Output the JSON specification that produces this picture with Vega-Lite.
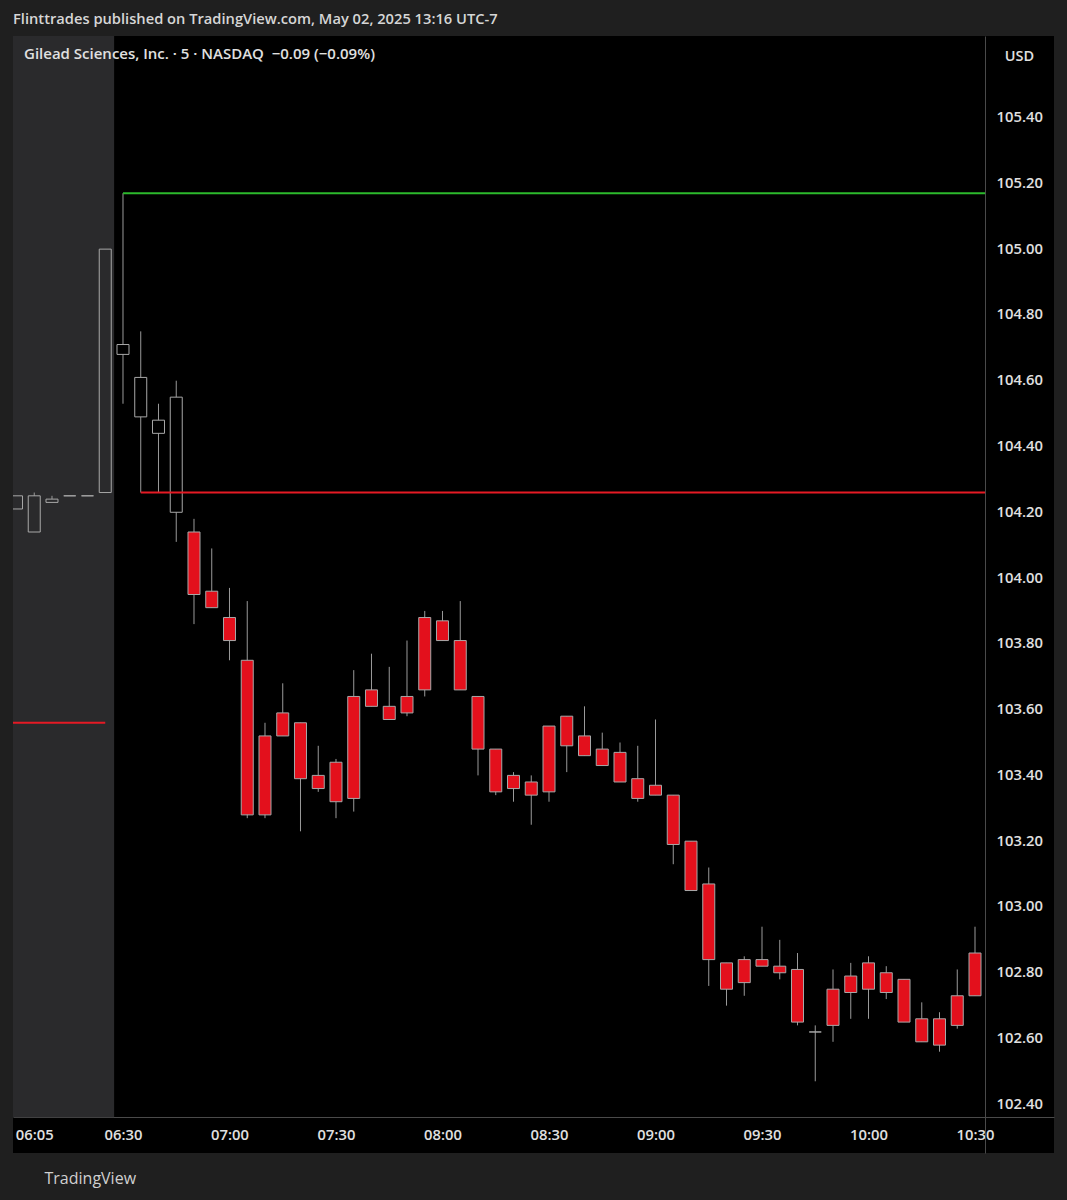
{
  "$schema": "https://vega.github.io/schema/vega-lite/v6.json",
  "width": 1041,
  "height": 1117,
  "autosize": {"type": "none"},
  "padding": {"left": 13, "top": 36, "right": 13, "bottom": 47},
  "background": "#1f1f1f",
  "config": {
    "view": {"fill": "#000000", "stroke": null},
    "font": "Open Sans"
  },
  "title": {
    "text": "Flinttrades published on TradingView.com, May 02, 2025 13:16 UTC-7",
    "subtitle": "\u2800Gilead Sciences, Inc. · 5 · NASDAQ\u00a0\u00a0−0.09 (−0.09%)",
    "anchor": "start",
    "frame": "group",
    "offset": -26,
    "font": "Open Sans",
    "fontSize": 14.7,
    "fontWeight": 600,
    "color": "#d6d6d6",
    "subtitleFont": "Open Sans",
    "subtitleFontSize": 15,
    "subtitleFontWeight": 600,
    "subtitleColor": "#e0e0e0",
    "subtitlePadding": 20
  },
  "datasets": {
    "candles": [
      {"t": "2025-05-02T06:00:00Z", "open": 104.21, "high": 104.25, "low": 104.21, "close": 104.25, "kind": "up"},
      {"t": "2025-05-02T06:05:00Z", "open": 104.14, "high": 104.26, "low": 104.14, "close": 104.25, "kind": "up"},
      {"t": "2025-05-02T06:10:00Z", "open": 104.23, "high": 104.25, "low": 104.23, "close": 104.24, "kind": "up"},
      {"t": "2025-05-02T06:15:00Z", "open": 104.25, "high": 104.25, "low": 104.25, "close": 104.25, "kind": "flat"},
      {"t": "2025-05-02T06:20:00Z", "open": 104.25, "high": 104.25, "low": 104.25, "close": 104.25, "kind": "flat"},
      {"t": "2025-05-02T06:25:00Z", "open": 104.26, "high": 105.00, "low": 104.26, "close": 105.00, "kind": "up"},
      {"t": "2025-05-02T06:30:00Z", "open": 104.68, "high": 105.17, "low": 104.53, "close": 104.71, "kind": "up"},
      {"t": "2025-05-02T06:35:00Z", "open": 104.49, "high": 104.75, "low": 104.26, "close": 104.61, "kind": "up"},
      {"t": "2025-05-02T06:40:00Z", "open": 104.44, "high": 104.53, "low": 104.26, "close": 104.48, "kind": "up"},
      {"t": "2025-05-02T06:45:00Z", "open": 104.20, "high": 104.60, "low": 104.11, "close": 104.55, "kind": "up"},
      {"t": "2025-05-02T06:50:00Z", "open": 104.14, "high": 104.18, "low": 103.86, "close": 103.95, "kind": "down"},
      {"t": "2025-05-02T06:55:00Z", "open": 103.96, "high": 104.09, "low": 103.91, "close": 103.91, "kind": "down"},
      {"t": "2025-05-02T07:00:00Z", "open": 103.88, "high": 103.97, "low": 103.75, "close": 103.81, "kind": "down"},
      {"t": "2025-05-02T07:05:00Z", "open": 103.75, "high": 103.93, "low": 103.27, "close": 103.28, "kind": "down"},
      {"t": "2025-05-02T07:10:00Z", "open": 103.52, "high": 103.56, "low": 103.27, "close": 103.28, "kind": "down"},
      {"t": "2025-05-02T07:15:00Z", "open": 103.59, "high": 103.68, "low": 103.52, "close": 103.52, "kind": "down"},
      {"t": "2025-05-02T07:20:00Z", "open": 103.56, "high": 103.56, "low": 103.23, "close": 103.39, "kind": "down"},
      {"t": "2025-05-02T07:25:00Z", "open": 103.40, "high": 103.49, "low": 103.35, "close": 103.36, "kind": "down"},
      {"t": "2025-05-02T07:30:00Z", "open": 103.44, "high": 103.45, "low": 103.27, "close": 103.32, "kind": "down"},
      {"t": "2025-05-02T07:35:00Z", "open": 103.64, "high": 103.72, "low": 103.29, "close": 103.33, "kind": "down"},
      {"t": "2025-05-02T07:40:00Z", "open": 103.66, "high": 103.77, "low": 103.61, "close": 103.61, "kind": "down"},
      {"t": "2025-05-02T07:45:00Z", "open": 103.61, "high": 103.73, "low": 103.57, "close": 103.57, "kind": "down"},
      {"t": "2025-05-02T07:50:00Z", "open": 103.64, "high": 103.81, "low": 103.58, "close": 103.59, "kind": "down"},
      {"t": "2025-05-02T07:55:00Z", "open": 103.88, "high": 103.90, "low": 103.64, "close": 103.66, "kind": "down"},
      {"t": "2025-05-02T08:00:00Z", "open": 103.87, "high": 103.90, "low": 103.81, "close": 103.81, "kind": "down"},
      {"t": "2025-05-02T08:05:00Z", "open": 103.81, "high": 103.93, "low": 103.66, "close": 103.66, "kind": "down"},
      {"t": "2025-05-02T08:10:00Z", "open": 103.64, "high": 103.64, "low": 103.40, "close": 103.48, "kind": "down"},
      {"t": "2025-05-02T08:15:00Z", "open": 103.48, "high": 103.48, "low": 103.34, "close": 103.35, "kind": "down"},
      {"t": "2025-05-02T08:20:00Z", "open": 103.40, "high": 103.41, "low": 103.32, "close": 103.36, "kind": "down"},
      {"t": "2025-05-02T08:25:00Z", "open": 103.38, "high": 103.40, "low": 103.25, "close": 103.34, "kind": "down"},
      {"t": "2025-05-02T08:30:00Z", "open": 103.55, "high": 103.55, "low": 103.32, "close": 103.35, "kind": "down"},
      {"t": "2025-05-02T08:35:00Z", "open": 103.58, "high": 103.58, "low": 103.41, "close": 103.49, "kind": "down"},
      {"t": "2025-05-02T08:40:00Z", "open": 103.52, "high": 103.61, "low": 103.46, "close": 103.46, "kind": "down"},
      {"t": "2025-05-02T08:45:00Z", "open": 103.48, "high": 103.53, "low": 103.43, "close": 103.43, "kind": "down"},
      {"t": "2025-05-02T08:50:00Z", "open": 103.47, "high": 103.50, "low": 103.38, "close": 103.38, "kind": "down"},
      {"t": "2025-05-02T08:55:00Z", "open": 103.39, "high": 103.49, "low": 103.32, "close": 103.33, "kind": "down"},
      {"t": "2025-05-02T09:00:00Z", "open": 103.37, "high": 103.57, "low": 103.34, "close": 103.34, "kind": "down"},
      {"t": "2025-05-02T09:05:00Z", "open": 103.34, "high": 103.34, "low": 103.13, "close": 103.19, "kind": "down"},
      {"t": "2025-05-02T09:10:00Z", "open": 103.20, "high": 103.20, "low": 103.05, "close": 103.05, "kind": "down"},
      {"t": "2025-05-02T09:15:00Z", "open": 103.07, "high": 103.12, "low": 102.76, "close": 102.84, "kind": "down"},
      {"t": "2025-05-02T09:20:00Z", "open": 102.83, "high": 102.83, "low": 102.70, "close": 102.75, "kind": "down"},
      {"t": "2025-05-02T09:25:00Z", "open": 102.84, "high": 102.85, "low": 102.73, "close": 102.77, "kind": "down"},
      {"t": "2025-05-02T09:30:00Z", "open": 102.84, "high": 102.94, "low": 102.82, "close": 102.82, "kind": "down"},
      {"t": "2025-05-02T09:35:00Z", "open": 102.82, "high": 102.90, "low": 102.78, "close": 102.80, "kind": "down"},
      {"t": "2025-05-02T09:40:00Z", "open": 102.81, "high": 102.86, "low": 102.64, "close": 102.65, "kind": "down"},
      {"t": "2025-05-02T09:45:00Z", "open": 102.62, "high": 102.64, "low": 102.47, "close": 102.62, "kind": "flat"},
      {"t": "2025-05-02T09:50:00Z", "open": 102.75, "high": 102.81, "low": 102.59, "close": 102.64, "kind": "down"},
      {"t": "2025-05-02T09:55:00Z", "open": 102.79, "high": 102.83, "low": 102.66, "close": 102.74, "kind": "down"},
      {"t": "2025-05-02T10:00:00Z", "open": 102.83, "high": 102.85, "low": 102.66, "close": 102.75, "kind": "down"},
      {"t": "2025-05-02T10:05:00Z", "open": 102.80, "high": 102.82, "low": 102.72, "close": 102.74, "kind": "down"},
      {"t": "2025-05-02T10:10:00Z", "open": 102.78, "high": 102.78, "low": 102.65, "close": 102.65, "kind": "down"},
      {"t": "2025-05-02T10:15:00Z", "open": 102.66, "high": 102.71, "low": 102.59, "close": 102.59, "kind": "down"},
      {"t": "2025-05-02T10:20:00Z", "open": 102.66, "high": 102.68, "low": 102.56, "close": 102.58, "kind": "down"},
      {"t": "2025-05-02T10:25:00Z", "open": 102.73, "high": 102.81, "low": 102.63, "close": 102.64, "kind": "down"},
      {"t": "2025-05-02T10:30:00Z", "open": 102.86, "high": 102.94, "low": 102.73, "close": 102.73, "kind": "down"}
    ],
    "levels": [
      {"t": "2025-05-02T06:30:00Z", "t2": "2025-05-02T10:32:50Z", "price": 105.17, "line": "green"},
      {"t": "2025-05-02T06:35:00Z", "t2": "2025-05-02T10:32:50Z", "price": 104.26, "line": "red"},
      {"t": "2025-05-02T05:59:00Z", "t2": "2025-05-02T06:25:00Z", "price": 103.56, "line": "red"}
    ],
    "sessions": [
      {"t": "2025-05-02T05:59:00Z", "t2": "2025-05-02T06:27:30Z", "session": "pre-market"}
    ]
  },
  "encoding": {
    "x": {
      "field": "t",
      "type": "temporal",
      "scale": {
        "type": "utc",
        "domain": [
          {"year": 2025, "month": 5, "date": 2, "hours": 5, "minutes": 59, "seconds": 1, "utc": true},
          {"year": 2025, "month": 5, "date": 2, "hours": 10, "minutes": 52, "seconds": 15, "utc": true}
        ],
        "nice": false,
        "padding": 0
      },
      "axis": {
        "orient": "bottom",
        "offset": -36,
        "values": [
          {"year": 2025, "month": 5, "date": 2, "hours": 6, "minutes": 5, "utc": true},
          {"year": 2025, "month": 5, "date": 2, "hours": 6, "minutes": 30, "utc": true},
          {"year": 2025, "month": 5, "date": 2, "hours": 7, "minutes": 0, "utc": true},
          {"year": 2025, "month": 5, "date": 2, "hours": 7, "minutes": 30, "utc": true},
          {"year": 2025, "month": 5, "date": 2, "hours": 8, "minutes": 0, "utc": true},
          {"year": 2025, "month": 5, "date": 2, "hours": 8, "minutes": 30, "utc": true},
          {"year": 2025, "month": 5, "date": 2, "hours": 9, "minutes": 0, "utc": true},
          {"year": 2025, "month": 5, "date": 2, "hours": 9, "minutes": 30, "utc": true},
          {"year": 2025, "month": 5, "date": 2, "hours": 10, "minutes": 0, "utc": true},
          {"year": 2025, "month": 5, "date": 2, "hours": 10, "minutes": 30, "utc": true}
        ],
        "labelExpr": "utcFormat(datum.value, '%H:%M')",
        "ticks": false,
        "grid": false,
        "domainColor": "#4a4a4a",
        "labelColor": "#e0e0e0",
        "labelFont": "Open Sans",
        "labelFontSize": 14.8,
        "labelFontWeight": 600,
        "labelPadding": 10,
        "labelFlush": false,
        "labelOverlap": false,
        "title": "TradingView",
        "titleX": 31,
        "titleY": 61,
        "titleAlign": "left",
        "titleBaseline": "middle",
        "titleFont": "Open Sans",
        "titleFontSize": 16,
        "titleFontWeight": "normal",
        "titleColor": "#d0d0d0"
      }
    }
  },
  "layer": [
    {
      "data": {"name": "sessions"},
      "mark": {"type": "rect", "fill": "#2a2a2c", "clip": true},
      "encoding": {
        "x2": {"field": "t2"},
        "y": {"datum": 102.361, "type": "quantitative", "title": "USD", "scale": {"domain": [102.252, 105.648], "nice": false, "zero": false, "padding": 0}},
        "y2": {"datum": 105.648}
      }
    },
    {
      "data": {"name": "candles"},
      "transform": [{"filter": "datum.kind != 'up'"}],
      "mark": {"type": "rule", "color": "#9a9a9a", "strokeWidth": 1, "clip": true},
      "encoding": {
        "y": {"field": "high", "type": "quantitative", "title": "USD", "scale": {"domain": [102.252, 105.648], "nice": false, "zero": false, "padding": 0}},
        "y2": {"field": "low"}
      }
    },
    {
      "data": {"name": "candles"},
      "transform": [{"filter": "datum.kind == 'up'"}],
      "mark": {"type": "rule", "color": "#9a9a9a", "strokeWidth": 1, "clip": true},
      "encoding": {
        "y": {"field": "high", "type": "quantitative", "title": "USD", "scale": {"domain": [102.252, 105.648], "nice": false, "zero": false, "padding": 0}},
        "y2": {"field": "close"}
      }
    },
    {
      "data": {"name": "candles"},
      "transform": [{"filter": "datum.kind == 'up'"}],
      "mark": {"type": "rule", "color": "#9a9a9a", "strokeWidth": 1, "clip": true},
      "encoding": {
        "y": {"field": "open", "type": "quantitative", "title": "USD", "scale": {"domain": [102.252, 105.648], "nice": false, "zero": false, "padding": 0}},
        "y2": {"field": "low"}
      }
    },
    {
      "data": {"name": "candles"},
      "mark": {"type": "bar", "width": 12, "stroke": "#a8a8a8", "strokeWidth": 1, "clip": true},
      "encoding": {
        "y": {
          "field": "open",
          "type": "quantitative",
          "title": "USD",
          "scale": {"domain": [102.252, 105.648], "nice": false, "zero": false, "padding": 0},
          "axis": {
            "orient": "right",
            "offset": -69,
            "values": [102.4, 102.6, 102.8, 103.0, 103.2, 103.4, 103.6, 103.8, 104.0, 104.2, 104.4, 104.6, 104.8, 105.0, 105.2, 105.4],
            "format": ".2f",
            "ticks": false,
            "grid": false,
            "domainColor": "#4a4a4a",
            "labelColor": "#e0e0e0",
            "labelFont": "Open Sans",
            "labelFontSize": 14.8,
            "labelFontWeight": 600,
            "labelPadding": 11,
            "labelBaseline": "middle",
            "labelFlush": false,
            "labelOverlap": false,
            "title": "USD",
            "titleAngle": 0,
            "titleX": 34,
            "titleY": 20,
            "titleAlign": "center",
            "titleBaseline": "middle",
            "titleFont": "Open Sans",
            "titleFontSize": 14.5,
            "titleFontWeight": 600,
            "titleColor": "#e0e0e0"
          }
        },
        "y2": {"field": "close"},
        "fill": {
          "field": "kind",
          "type": "nominal",
          "scale": {"domain": ["down", "up", "flat"], "range": ["#e3101c", "transparent", "transparent"]},
          "legend": null
        }
      }
    },
    {
      "data": {"name": "levels"},
      "mark": {"type": "rule", "strokeWidth": 2, "clip": true},
      "encoding": {
        "x2": {"field": "t2"},
        "y": {"field": "price", "type": "quantitative", "title": "USD", "scale": {"domain": [102.252, 105.648], "nice": false, "zero": false, "padding": 0}},
        "color": {
          "field": "line",
          "type": "nominal",
          "scale": {"domain": ["green", "red"], "range": ["#2cba2c", "#e51a24"]},
          "legend": null
        }
      }
    }
  ]
}
